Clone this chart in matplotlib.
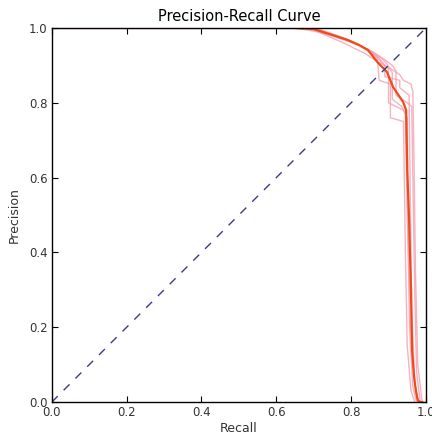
import matplotlib
matplotlib.use("Agg")
import matplotlib.pyplot as plt

# mean precision-recall curve
mean_recall = [0.0, 0.65, 0.70, 0.725, 0.76, 0.79, 0.82, 0.845, 0.87, 0.896,
               0.912, 0.925, 0.939, 0.947, 0.950, 0.955, 0.960, 0.963, 0.968, 0.973,
               0.978, 0.985, 0.99]
mean_precision = [1.0, 1.0, 0.997, 0.989, 0.978, 0.968, 0.955, 0.941, 0.909, 0.882,
                  0.842, 0.823, 0.802, 0.78, 0.62, 0.487, 0.30, 0.139, 0.07, 0.03,
                  0.005, 0.0, 0.0]

# individual fold curves
fold_recalls = [
    [0.0, 0.66, 0.72, 0.79, 0.84, 0.87, 0.89, 0.89, 0.93, 0.93, 0.955, 0.958, 0.962, 0.97, 0.98],
    [0.0, 0.64, 0.70, 0.77, 0.83, 0.86, 0.88, 0.90, 0.90, 0.94, 0.95, 0.952, 0.956, 0.965, 0.975],
    [0.0, 0.67, 0.73, 0.80, 0.86, 0.89, 0.91, 0.92, 0.92, 0.95, 0.962, 0.965, 0.97, 0.975, 0.985],
    [0.0, 0.63, 0.69, 0.76, 0.82, 0.85, 0.87, 0.875, 0.905, 0.905, 0.94, 0.945, 0.95, 0.96, 0.97],
    [0.0, 0.66, 0.72, 0.79, 0.85, 0.88, 0.895, 0.91, 0.91, 0.935, 0.945, 0.95, 0.958, 0.968, 0.98],
    [0.0, 0.65, 0.71, 0.78, 0.84, 0.87, 0.90, 0.93, 0.94, 0.96, 0.965, 0.968, 0.972, 0.978, 0.99],
]
fold_precisions = [
    [1.0, 1.0, 0.995, 0.97, 0.945, 0.925, 0.90, 0.87, 0.86, 0.84, 0.82, 0.55, 0.25, 0.05, 0.0],
    [1.0, 1.0, 0.997, 0.975, 0.95, 0.93, 0.91, 0.89, 0.80, 0.78, 0.76, 0.45, 0.20, 0.04, 0.0],
    [1.0, 1.0, 0.99, 0.965, 0.935, 0.915, 0.90, 0.885, 0.82, 0.80, 0.79, 0.60, 0.30, 0.08, 0.0],
    [1.0, 1.0, 0.996, 0.975, 0.955, 0.935, 0.92, 0.86, 0.85, 0.76, 0.75, 0.40, 0.15, 0.03, 0.0],
    [1.0, 1.0, 0.993, 0.968, 0.94, 0.92, 0.905, 0.88, 0.81, 0.79, 0.77, 0.50, 0.22, 0.06, 0.0],
    [1.0, 1.0, 0.99, 0.96, 0.93, 0.91, 0.895, 0.875, 0.86, 0.85, 0.83, 0.65, 0.35, 0.10, 0.0],
]

fig = plt.figure(figsize=(4.32, 4.37), dpi=100)
ax = fig.add_axes([0.120, 0.080, 0.866, 0.856])

for r, p in zip(fold_recalls, fold_precisions):
    ax.plot(r, p, color="#f4a0b0", lw=1.0, alpha=0.8)
ax.plot(mean_recall, mean_precision, color="#ee4a1a", lw=1.6)
ax.plot([0, 1], [0, 1], color="#3b3b8f", lw=1.0, linestyle=(0, (6, 6)))

ax.set_xlim(0, 1)
ax.set_ylim(0, 1)
ax.set_xticks([0, 0.2, 0.4, 0.6, 0.8, 1.0])
ax.set_yticks([0, 0.2, 0.4, 0.6, 0.8, 1.0])
ax.set_xticklabels(["0.0", "0.2", "0.4", "0.6", "0.8", "1.0"])
ax.set_yticklabels(["0.0", "0.2", "0.4", "0.6", "0.8", "1.0"])
ax.tick_params(direction="in", top=True, right=True, length=4, width=0.8,
               labelsize=8.5, pad=3, labelcolor="#333333")
for s in ax.spines.values():
    s.set_linewidth(1.0)
ax.set_xlabel("Recall", fontsize=9, labelpad=2, color="#333333")
ax.set_ylabel("Precision", fontsize=9, labelpad=6, color="#333333")
ax.set_title("Precision-Recall Curve", fontsize=10.5, pad=5)

fig.savefig("out.png", dpi=100)
